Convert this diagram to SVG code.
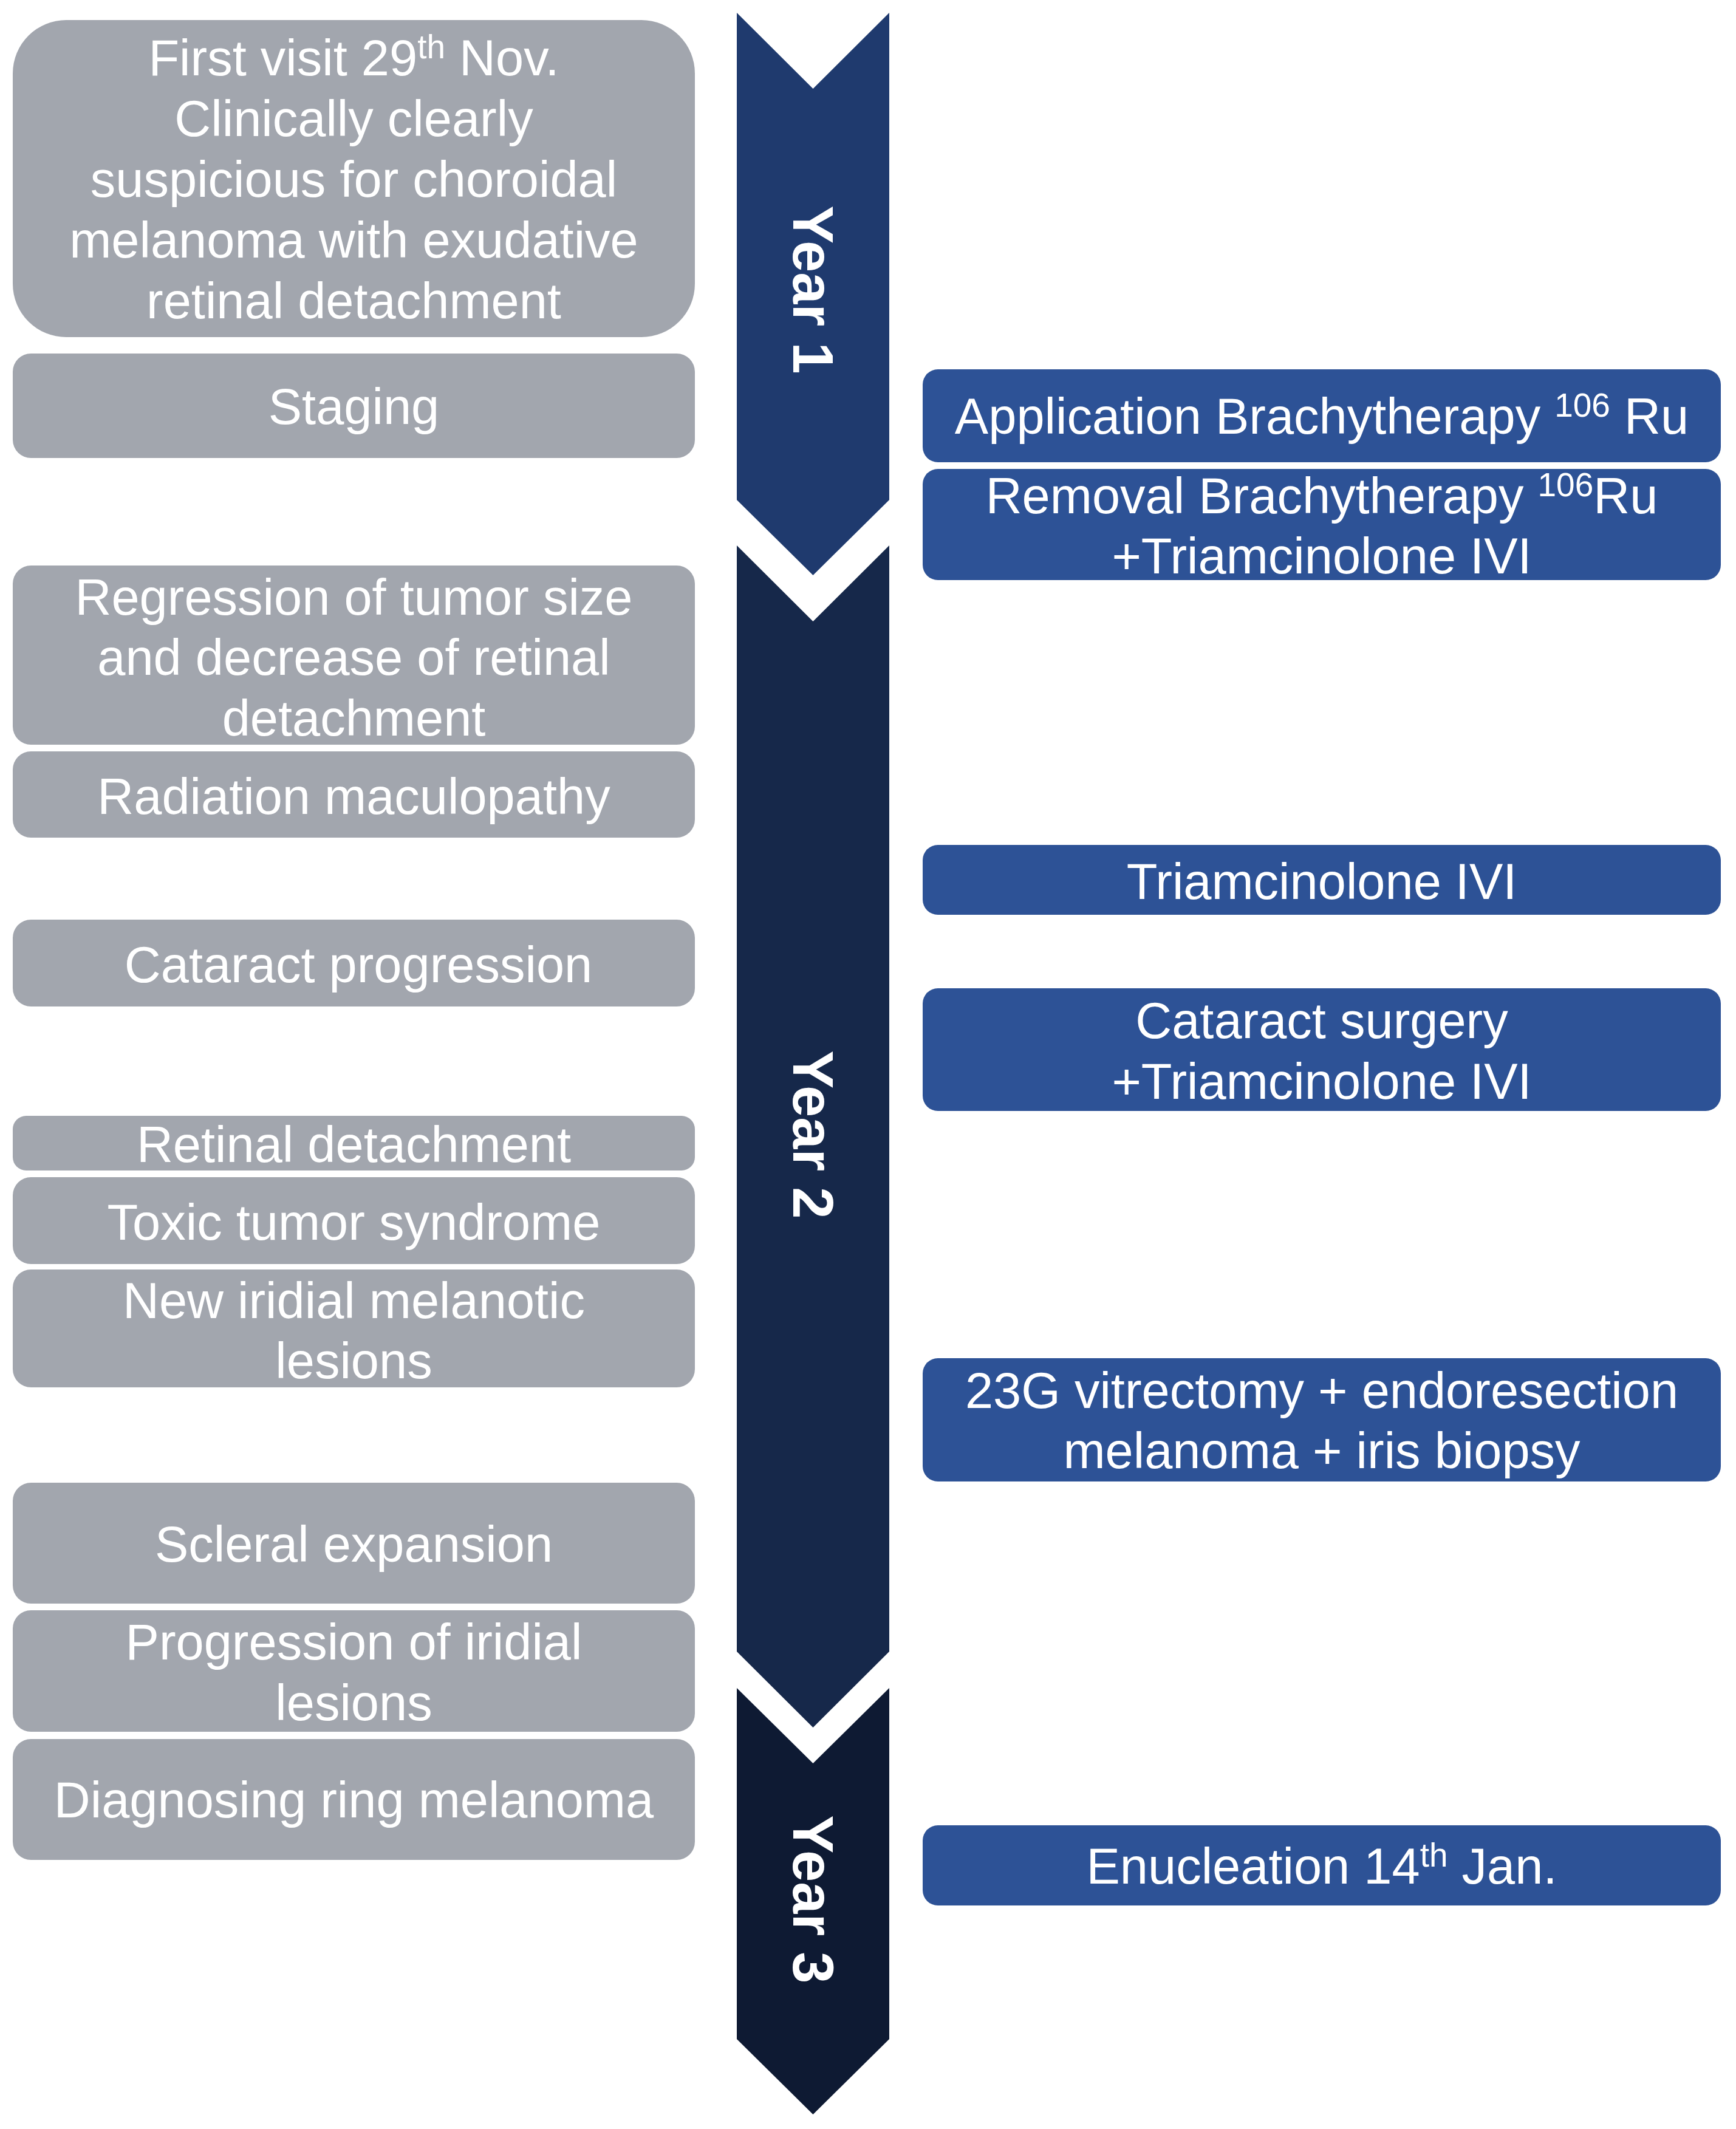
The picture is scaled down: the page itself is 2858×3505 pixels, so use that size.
<svg xmlns="http://www.w3.org/2000/svg" width="2858" height="3505" viewBox="0 0 2858 3505">
<style>
.g{fill:#a2a6ae}
.b{fill:#2d5296}
.t{font-family:"Liberation Sans",Arial,sans-serif;font-size:83px;fill:#ffffff;text-anchor:middle}
.y{font-family:"Liberation Sans",Arial,sans-serif;font-size:94px;font-weight:bold;fill:#ffffff;text-anchor:middle;dominant-baseline:central}
</style>
<rect width="2858" height="3505" fill="#ffffff"/>
<g id="timeline">
<g id="year1">
<polygon points="1213,21 1338.5,146 1464,21 1464,823 1338.5,947 1213,823" fill="#1f3a6e"/>
<text class="y" transform="translate(1338,477) rotate(90)">Year 1</text>
</g>
<g id="year2">
<polygon points="1213,898 1338.5,1023 1464,898 1464,2719 1338.5,2844 1213,2719" fill="#16284a"/>
<text class="y" transform="translate(1338,1868) rotate(90)">Year 2</text>
</g>
<g id="year3">
<polygon points="1213,2779 1338.5,2903 1464,2779 1464,3357 1338.5,3481 1213,3357" fill="#0e1a33"/>
<text class="y" transform="translate(1338,3127) rotate(90)">Year 3</text>
</g>
</g>
<g id="n1">
<rect class="g" x="21" y="33" width="1123" height="522" rx="88" ry="88"/>
<text class="t"><tspan x="582.5" y="124">First visit 29<tspan dy="-28" font-size="55">th</tspan><tspan dy="28"> Nov.</tspan></tspan><tspan x="582.5" y="224">Clinically clearly</tspan><tspan x="582.5" y="324">suspicious for choroidal</tspan><tspan x="582.5" y="424">melanoma with exudative</tspan><tspan x="582.5" y="524">retinal detachment</tspan></text>
</g>
<g id="n2">
<rect class="g" x="21" y="582" width="1123" height="172" rx="30" ry="30"/>
<text class="t" x="582.5" y="698">Staging</text>
</g>
<g id="n3">
<rect class="g" x="21" y="931" width="1123" height="295" rx="30" ry="30"/>
<text class="t"><tspan x="582.5" y="1012">Regression of tumor size</tspan><tspan x="582.5" y="1111">and decrease of retinal</tspan><tspan x="582.5" y="1211">detachment</tspan></text>
</g>
<g id="n4">
<rect class="g" x="21" y="1237" width="1123" height="142" rx="30" ry="30"/>
<text class="t" x="582.5" y="1340">Radiation maculopathy</text>
</g>
<g id="n5">
<rect class="g" x="21" y="1514" width="1123" height="143" rx="30" ry="30"/>
<text class="t" x="590" y="1617">Cataract progression</text>
</g>
<g id="n6">
<rect class="g" x="21" y="1837" width="1123" height="90" rx="22" ry="22"/>
<text class="t" x="582.5" y="1913">Retinal detachment</text>
</g>
<g id="n7">
<rect class="g" x="21" y="1938" width="1123" height="143" rx="30" ry="30"/>
<text class="t" x="582.5" y="2041">Toxic tumor syndrome</text>
</g>
<g id="n8">
<rect class="g" x="21" y="2090" width="1123" height="194" rx="30" ry="30"/>
<text class="t"><tspan x="582.5" y="2170">New iridial melanotic</tspan><tspan x="582.5" y="2269">lesions</tspan></text>
</g>
<g id="n9">
<rect class="g" x="21" y="2441" width="1123" height="199" rx="30" ry="30"/>
<text class="t" x="582.5" y="2571">Scleral expansion</text>
</g>
<g id="n10">
<rect class="g" x="21" y="2651" width="1123" height="200" rx="30" ry="30"/>
<text class="t"><tspan x="582.5" y="2732">Progression of iridial</tspan><tspan x="582.5" y="2832">lesions</tspan></text>
</g>
<g id="n11">
<rect class="g" x="21" y="2863" width="1123" height="199" rx="30" ry="30"/>
<text class="t" x="582.5" y="2992">Diagnosing ring melanoma</text>
</g>
<g id="b1">
<rect class="b" x="1519" y="608" width="1314" height="153" rx="25" ry="25"/>
<text class="t" x="2176" y="714">Application Brachytherapy <tspan dy="-28" font-size="55">106</tspan><tspan dy="28"> Ru</tspan></text>
</g>
<g id="b2">
<rect class="b" x="1519" y="772" width="1314" height="183" rx="25" ry="25"/>
<text class="t"><tspan x="2176" y="845">Removal Brachytherapy <tspan dy="-28" font-size="55">106</tspan><tspan dy="28">Ru</tspan></tspan><tspan x="2176" y="944">+Triamcinolone IVI</tspan></text>
</g>
<g id="b3">
<rect class="b" x="1519" y="1391" width="1314" height="115" rx="25" ry="25"/>
<text class="t" x="2176" y="1480">Triamcinolone IVI</text>
</g>
<g id="b4">
<rect class="b" x="1519" y="1627" width="1314" height="202" rx="25" ry="25"/>
<text class="t"><tspan x="2176" y="1709">Cataract surgery</tspan><tspan x="2176" y="1809">+Triamcinolone IVI</tspan></text>
</g>
<g id="b5">
<rect class="b" x="1519" y="2236" width="1314" height="203" rx="25" ry="25"/>
<text class="t"><tspan x="2176" y="2318">23G vitrectomy + endoresection</tspan><tspan x="2176" y="2417">melanoma + iris biopsy</tspan></text>
</g>
<g id="b6">
<rect class="b" x="1519" y="3005" width="1314" height="132" rx="25" ry="25"/>
<text class="t" x="2176" y="3101">Enucleation 14<tspan dy="-28" font-size="55">th</tspan><tspan dy="28"> Jan.</tspan></text>
</g>
</svg>
